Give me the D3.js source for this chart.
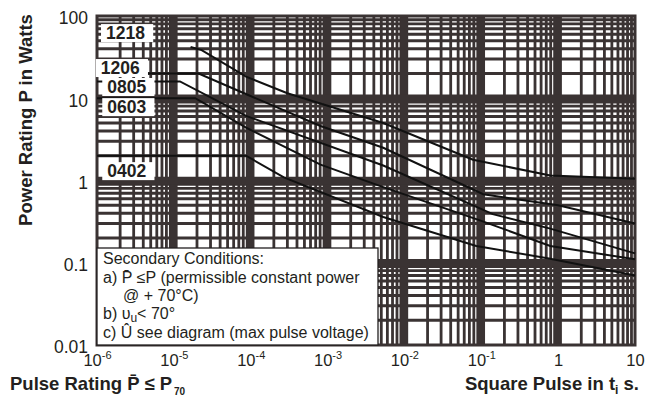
<!DOCTYPE html>
<html>
<head>
<meta charset="utf-8">
<script src="https://cdn.jsdelivr.net/npm/d3@7"></script>
<style>
  html, body { margin: 0; padding: 0; background: #fff; }
  svg { display: block; font-family: "Liberation Sans", Arial, sans-serif; }
</style>
</head>
<body>
<svg id="chart" width="652" height="400"></svg>
<script>
// Pulse duration (s) and permissible pulse power (W) per chip size
const sizes = ["1218", "1206", "0805", "0603", "0402"];
const pulse1218 = [[1.65e-5, 42], [2.3e-5, 38.5], [8.7e-5, 18.3], [3.0e-4, 11.5], [5.3e-3, 5.0], [0.078, 1.79], [0.79, 1.15], [10, 1.05]];
const pulse1206 = [[1e-6, 20], [2.1e-5, 20], [8.2e-5, 11.5], [8.1e-4, 4.6], [5.3e-3, 2.5], [0.106, 0.68], [1.0, 0.5], [10, 0.3]];
const pulse0805 = [[1e-6, 16], [1.2e-5, 16], [8.7e-5, 6.1], [5.3e-3, 1.52], [0.141, 0.39], [0.79, 0.26], [10, 0.13]];
const pulse0603 = [[1e-6, 10], [1.9e-5, 10], [8.7e-5, 4.4], [8.1e-4, 1.56], [5.3e-3, 0.83], [0.094, 0.33], [0.79, 0.16], [10, 0.11]];
const pulse0402 = [[1e-6, 2.0], [8.7e-5, 2.0], [2.7e-4, 1.09], [5.3e-3, 0.36], [0.086, 0.16], [0.79, 0.112], [10, 0.07]];
const seriesData = [pulse1218, pulse1206, pulse0805, pulse0603, pulse0402];

// Axis ticks
const xDecades = [1e-6, 1e-5, 1e-4, 1e-3, 1e-2, 1e-1, 1, 10];
const xExponents = ["-6", "-5", "-4", "-3", "-2", "-1", "", ""];
const xBases = ["10", "10", "10", "10", "10", "10", "1", "10"];
const yDecades = [100, 10, 1, 0.1, 0.01];
const yLabels = ["100", "10", "1", "0.1", "0.01"];

// Tag anchors in value coordinates (left edge, vertical centre)
const tagValues = [[1.31e-6, 62], [1.12e-6, 23.3], [1.36e-6, 13.7], [1.36e-6, 7.8], [1.36e-6, 1.3]];

const svg = d3.select("#chart");
const pLeft = 97, pRight = 635, pTop = 16, pBottom = 345;

const x = d3.scaleLog().domain([1e-6, 10]).range([pLeft, pRight]);
const y = d3.scaleLog().domain([0.01, 100]).range([pBottom, pTop]);

const gridColor = "#3a3333";
const ink = "#231f20";

// Grid: minor lines at 2..9 of each decade, heavy lines at decades
const xMinor = [], yMinor = [];
for (let e = -6; e < 1; e++) for (let k = 2; k <= 9; k++) xMinor.push(k * Math.pow(10, e));
for (let e = -2; e < 2; e++) for (let k = 2; k <= 9; k++) yMinor.push(k * Math.pow(10, e));

const grid = svg.append("g");
grid.selectAll("line.vm").data(xMinor).join("line")
  .attr("x1", d => x(d)).attr("x2", d => x(d))
  .attr("y1", pTop).attr("y2", pBottom)
  .attr("stroke", gridColor).attr("stroke-width", 2.8);
grid.selectAll("line.hm").data(yMinor).join("line")
  .attr("y1", d => y(d)).attr("y2", d => y(d))
  .attr("x1", pLeft).attr("x2", pRight)
  .attr("stroke", gridColor).attr("stroke-width", 2.8);
grid.selectAll("line.vM").data(xDecades.slice(1, -1)).join("line")
  .attr("x1", d => x(d)).attr("x2", d => x(d))
  .attr("y1", pTop).attr("y2", pBottom)
  .attr("stroke", gridColor).attr("stroke-width", 7.5);
grid.selectAll("line.hM").data(yDecades.slice(1, -1)).join("line")
  .attr("y1", d => y(d)).attr("y2", d => y(d))
  .attr("x1", pLeft).attr("x2", pRight)
  .attr("stroke", gridColor).attr("stroke-width", 7.5);
grid.append("rect")
  .attr("x", pLeft).attr("y", pTop)
  .attr("width", pRight - pLeft).attr("height", pBottom - pTop)
  .attr("fill", "none").attr("stroke", gridColor).attr("stroke-width", 3);

// Curves
const line = d3.line().x(d => x(d[0])).y(d => y(d[1]));
svg.append("g").selectAll("path").data(seriesData).join("path")
  .attr("d", line)
  .attr("fill", "none")
  .attr("stroke", "#111")
  .attr("stroke-width", 2);

// Size tags with white backing
const tags = svg.append("g");
sizes.forEach((s, i) => {
  const tx = x(tagValues[i][0]), ty = y(tagValues[i][1]);
  const t = tags.append("text")
    .attr("x", tx).attr("y", ty)
    .attr("font-size", 17.5).attr("font-weight", "bold")
    .attr("fill", ink)
    .attr("dominant-baseline", "central")
    .text(s);
  const bb = t.node().getBBox();
  tags.insert("rect", "text")
    .attr("x", bb.x - 5).attr("y", bb.y + 1)
    .attr("width", bb.width + 13).attr("height", bb.height - 2)
    .attr("fill", "#fff");
});
tags.selectAll("text").raise();

// Conditions box
const box = svg.append("g");
box.append("rect")
  .attr("x", pLeft).attr("y", 248)
  .attr("width", 281).attr("height", 97)
  .attr("fill", "#fff").attr("stroke", ink).attr("stroke-width", 1.3);
const bt = box.append("g").attr("font-size", 16).attr("fill", ink);
bt.append("text").attr("x", 103).attr("y", 264).text("Secondary Conditions:");
bt.append("text").attr("x", 103).attr("y", 283)
  .text("a) P\u0304 \u2264P (permissible constant power");
bt.append("text").attr("x", 123).attr("y", 301).text("@ + 70\u00B0C)");
const lb = bt.append("text").attr("x", 103).attr("y", 319);
lb.append("tspan").text("b) \u03C5");
lb.append("tspan").attr("font-size", 12).attr("dy", 3).text("u");
lb.append("tspan").attr("dy", -3).text("< 70\u00B0");
bt.append("text").attr("x", 103).attr("y", 338).text("c) \u00DB see diagram (max pulse voltage)");

// Axes
const xAxis = svg.append("g")
  .attr("transform", `translate(0,${pBottom})`)
  .call(d3.axisBottom(x).tickValues(xDecades).tickSize(0).tickPadding(0).tickFormat(() => ""));
xAxis.select(".domain").remove();
xAxis.selectAll(".tick text").each(function(d, i) {
  const t = d3.select(this)
    .attr("font-size", 16.5).attr("fill", ink)
    .attr("font-family", "Liberation Sans, Arial, sans-serif")
    .attr("y", 21).attr("dy", null);
  t.append("tspan").text(xBases[i]);
  if (xExponents[i]) t.append("tspan").attr("font-size", 11).attr("dy", -7).text(xExponents[i]);
});

const yAxis = svg.append("g")
  .attr("transform", `translate(${pLeft},0)`)
  .call(d3.axisLeft(y).tickValues(yDecades).tickSize(0).tickPadding(9).tickFormat((d, i) => yLabels[i]));
yAxis.select(".domain").remove();
yAxis.selectAll(".tick text")
  .attr("font-size", 17.5).attr("fill", ink)
  .attr("font-family", "Liberation Sans, Arial, sans-serif")
  .attr("dy", "0.45em");

// Axis titles
svg.append("text")
  .attr("transform", "translate(32,120) rotate(-90)")
  .attr("text-anchor", "middle")
  .attr("font-size", 18.5).attr("font-weight", "bold").attr("fill", ink)
  .text("Power Rating P in Watts");

const bl = svg.append("text")
  .attr("x", 10).attr("y", 390)
  .attr("font-size", 18.5).attr("font-weight", "bold").attr("fill", ink);
bl.append("tspan").text("Pulse Rating P\u0304");
bl.append("tspan").attr("dx", 5).text("\u2264");
bl.append("tspan").attr("dx", 5).text("P");
bl.append("tspan").attr("font-size", 10).attr("dx", 2).attr("dy", 5).text("70");

const br = svg.append("text")
  .attr("x", 639).attr("y", 390)
  .attr("text-anchor", "end")
  .attr("font-size", 18.5).attr("font-weight", "bold").attr("fill", ink);
br.append("tspan").text("Square Pulse in t");
br.append("tspan").attr("font-size", 12).attr("dy", 4).text("i");
br.append("tspan").attr("dy", -4).text(" s.");
</script>
</body>
</html>
